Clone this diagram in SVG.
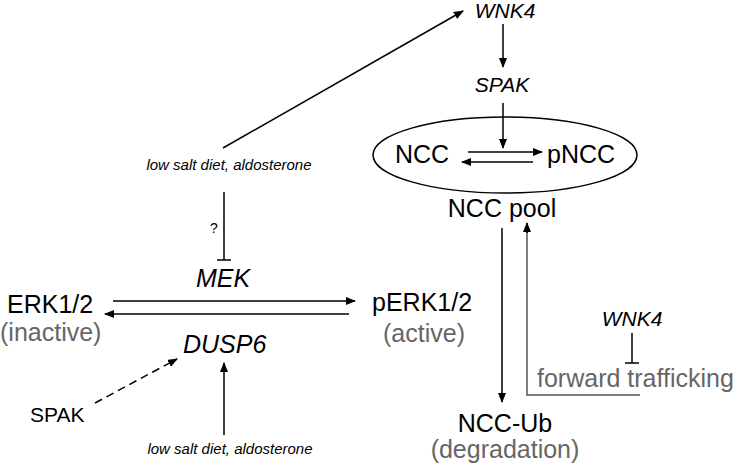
<svg xmlns="http://www.w3.org/2000/svg" width="742" height="469" viewBox="0 0 742 469">
<style>
text{font-family:"Liberation Sans",Arial,sans-serif;fill:#000}
.it{font-style:italic}
.g{fill:#666}
.b{font-size:25px}
.s{font-size:21px}
.xs{font-size:15px}
.ln{stroke:#000;stroke-width:1.5;fill:none}
.gl{stroke:#555;stroke-width:1.5;fill:none}
</style>
<defs>
<marker id="ah" markerUnits="userSpaceOnUse" markerWidth="10" markerHeight="8" refX="9" refY="4" orient="auto">
<path d="M0,0 L10,4 L0,8 Z" fill="#000"/>
</marker>
</defs>
<g id="nodes">
<g id="wnk4-top"><text class="s it" x="505" y="18" text-anchor="middle">WNK4</text></g>
<g id="spak-top"><text class="s it" x="502" y="92" text-anchor="middle">SPAK</text></g>
<g id="ncc-pool"><ellipse cx="505" cy="155" rx="132" ry="38" class="ln"/>
<text class="b" x="395" y="163">NCC</text>
<text class="b" x="547" y="163">pNCC</text>
<text class="b" x="502" y="217" text-anchor="middle">NCC pool</text></g>
<g id="lsd-top"><text class="xs it" x="229" y="170" text-anchor="middle">low salt diet, aldosterone</text></g>
<g id="q"><text x="210" y="233" style="font-size:14px">?</text></g>
<g id="mek"><text class="b it" x="196" y="287">MEK</text></g>
<g id="erk"><text class="b" x="7" y="313">ERK1/2</text><text class="b g" x="0" y="341">(inactive)</text></g>
<g id="perk"><text class="b" x="372" y="311">pERK1/2</text><text class="b g" x="383" y="342">(active)</text></g>
<g id="dusp6"><text class="b it" x="183" y="353">DUSP6</text></g>
<g id="spak-left"><text class="s" x="30" y="422">SPAK</text></g>
<g id="lsd-bottom"><text class="xs it" x="230" y="454" text-anchor="middle">low salt diet, aldosterone</text></g>
<g id="wnk4-right"><text class="s it" x="632" y="326" text-anchor="middle">WNK4</text></g>
<g id="fwd"><text class="b g" x="537" y="387">forward trafficking</text></g>
<g id="nccub"><text class="b" x="505" y="432" text-anchor="middle">NCC-Ub</text><text class="b g" x="505" y="458" text-anchor="middle">(degradation)</text></g>
</g>
<g id="connectors">
<line class="ln" x1="223" y1="148" x2="463" y2="11" marker-end="url(#ah)"/>
<line class="ln" x1="503" y1="24" x2="503" y2="67" marker-end="url(#ah)"/>
<line class="ln" x1="503" y1="103" x2="503" y2="148" marker-end="url(#ah)"/>
<line class="ln" x1="468" y1="152" x2="542" y2="152" marker-end="url(#ah)"/>
<line class="ln" x1="533" y1="162" x2="462" y2="162" marker-end="url(#ah)"/>
<line class="ln" x1="224" y1="192" x2="224" y2="260"/>
<line class="ln" x1="217" y1="260" x2="231" y2="260"/>
<line class="ln" x1="113" y1="301" x2="355" y2="301" marker-end="url(#ah)"/>
<line class="ln" x1="349" y1="314" x2="105" y2="314" marker-end="url(#ah)"/>
<line class="ln" x1="95" y1="403" x2="177" y2="359" stroke-dasharray="8,5" marker-end="url(#ah)"/>
<line class="ln" x1="224" y1="435" x2="224" y2="363" marker-end="url(#ah)"/>
<line class="ln" x1="502" y1="228" x2="502" y2="402" marker-end="url(#ah)"/>
<polyline class="gl" points="640,395 527,395 527,232"/>
<line class="ln" x1="527" y1="233" x2="527" y2="223" marker-end="url(#ah)"/>
<line class="ln" x1="632" y1="333" x2="632" y2="363"/>
<line class="ln" x1="625" y1="363" x2="639" y2="363"/>
</g>
</svg>
